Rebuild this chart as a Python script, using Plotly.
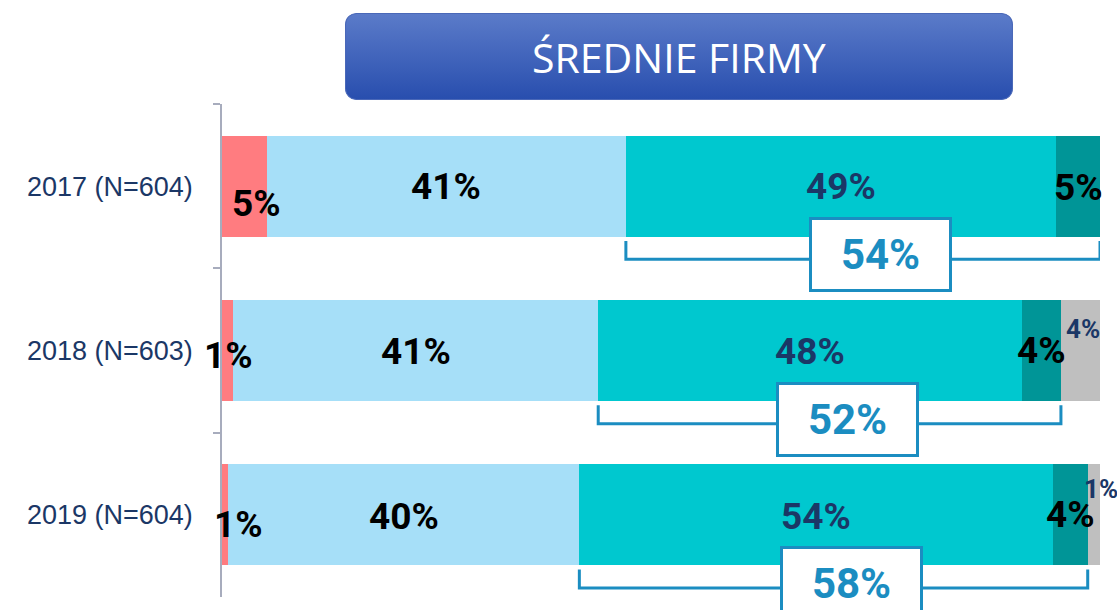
import base64
import plotly.graph_objects as go

# ---------------- data ----------------
categories = ["2017 (N=604)", "2018 (N=603)", "2019 (N=604)"]
red_vals = [5.1, 1.25, 0.7]
lightblue_vals = [40.9, 41.6, 40.0]
teal_vals = [49.0, 48.3, 53.9]
darkteal_vals = [5.0, 4.4, 4.0]
gray_vals = [0.0, 4.45, 1.4]

red_labels = ["5%", "1%", "1%"]
lightblue_labels = ["41%", "41%", "40%"]
teal_labels = ["49%", "48%", "54%"]
darkteal_labels = ["5%", "4%", "4%"]
gray_labels = ["", "4%", "1%"]
total_labels = ["54%", "52%", "58%"]

title_text = "ŚREDNIE FIRMY"

# ---------------- styles ----------------
C_RED = "#ff7c80"
C_LB = "#a6dff8"
C_TEAL = "#00c8cf"
C_DT = "#009597"
C_GRAY = "#bfbfbf"
C_NAVY = "#1b3766"
C_BLUE = "#1b8dc1"
LABEL_FONT = "Roboto, 'Liberation Sans', sans-serif"

series = [
    (red_vals, C_RED, red_labels, "black", 37, [(12, -17), (1, -5), (13, -10)]),
    (lightblue_vals, C_LB, lightblue_labels, "black", 37, [(0, 0), (0, -1), (0, -2)]),
    (teal_vals, C_TEAL, teal_labels, C_NAVY, 37, [(0, 0), (0, -1), (0, -2)]),
    (darkteal_vals, C_DT, darkteal_labels, "black", 37, [(0, -1), (0, 0), (0, 0)]),
    (gray_vals, C_GRAY, gray_labels, C_NAVY, 26, [(0, 0), (3, 22), (7, 26)]),
]

bargap = 0.384
fig = go.Figure()
for vals, color, _, _, _, _ in series:
    fig.add_trace(go.Bar(
        y=categories, x=vals, orientation="h",
        marker=dict(color=color, line=dict(width=0)),
        hoverinfo="skip", showlegend=False,
    ))

annotations = []
n = len(categories)
starts = [0.0] * n
seg_bounds = []
for vals, color, labels, fcolor, fsize, shifts in series:
    bounds = []
    for i in range(n):
        s = starts[i]
        e = s + vals[i]
        bounds.append((s, e))
        if labels[i]:
            annotations.append(dict(
                x=(s + e) / 2, y=categories[i], xref="x", yref="y",
                text=f"<b>{labels[i]}</b>", showarrow=False,
                xshift=shifts[i][0], yshift=shifts[i][1],
                font=dict(family=LABEL_FONT, size=fsize, color=fcolor),
            ))
        starts[i] = e
    seg_bounds.append(bounds)

# brackets and boxed totals (teal + dark teal)
half = (1 - bargap) / 2
shapes = []
for i in range(n):
    x_left = seg_bounds[2][i][0]
    x_right = seg_bounds[3][i][1]
    y_top = i + half + 0.025
    y_bot = i + half + 0.137
    shapes.append(dict(
        type="path", xref="x", yref="y",
        path=f"M {x_left},{y_top} L {x_left},{y_bot} L {x_right},{y_bot} L {x_right},{y_top}",
        line=dict(color=C_BLUE, width=3),
    ))
    annotations.append(dict(
        x=(x_left + x_right) / 2, y=categories[i], xref="x", yref="y",
        xshift=18, yshift=-68.5,
        text=f"<b>{total_labels[i]}</b>", showarrow=False,
        width=137, height=69, borderpad=0, borderwidth=3,
        bordercolor=C_BLUE, bgcolor="white",
        font=dict(family=LABEL_FONT, size=42, color=C_BLUE),
    ))

# title box (gradient rounded rectangle) + title text
svg = ('<svg xmlns="http://www.w3.org/2000/svg" width="668" height="87" viewBox="0 0 668 87" '
       'preserveAspectRatio="none"><defs><linearGradient id="g" x1="0" y1="0" x2="0" y2="1">'
       '<stop offset="0" stop-color="#5b7bc9"/><stop offset="1" stop-color="#284eae"/>'
       '</linearGradient></defs><rect x="0.5" y="0.5" width="667" height="86" rx="11" ry="11" '
       'fill="url(#g)" stroke="#4a68b8" stroke-width="1"/></svg>')
src = "data:image/svg+xml;base64," + base64.b64encode(svg.encode()).decode()

fig.update_layout(
    images=[dict(source=src, xref="paper", yref="paper", x=0.1401, y=1.1846,
                 sizex=0.7608, sizey=0.1765, xanchor="left", yanchor="top",
                 sizing="stretch", layer="above")],
)
annotations.append(dict(
    x=0.5205, y=1.0953, xref="paper", yref="paper", text=title_text, showarrow=False,
    xanchor="center", yanchor="middle",
    font=dict(family="'Open Sans', sans-serif", size=41, color="white"),
))

fig.update_layout(
    barmode="stack",
    bargap=bargap,
    width=1117, height=610,
    margin=dict(l=222, r=17, t=104, b=13),
    paper_bgcolor="white", plot_bgcolor="white",
    xaxis=dict(range=[0, 100], autorange=False, visible=False, fixedrange=True),
    yaxis=dict(
        range=[2.5, -0.5], autorange=False, showline=True, linecolor="#a7acbd", linewidth=1.5,
        ticks="outside", tickson="boundaries", ticklen=7, tickcolor="#a7acbd", tickwidth=1.5,
        ticklabelstandoff=22,
        tickfont=dict(family="'Liberation Sans', sans-serif", size=27, color=C_NAVY),
        showgrid=False, zeroline=False, fixedrange=True,
    ),
    shapes=shapes,
    annotations=annotations,
)

fig.write_html("out.html", config={"displayModeBar": False},
               post_script="document.body.style.margin='0';")
